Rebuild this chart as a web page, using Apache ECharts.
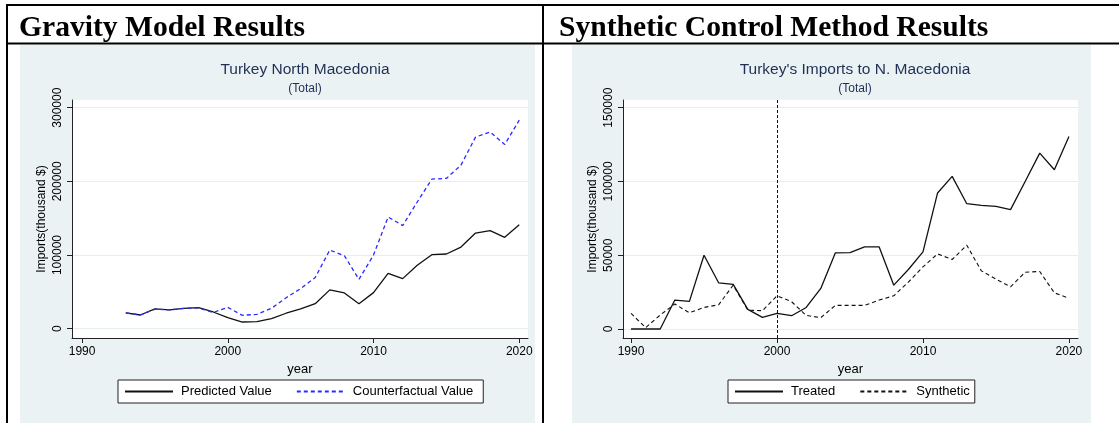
<!DOCTYPE html>
<html>
<head>
<meta charset="utf-8">
<script src="https://cdn.jsdelivr.net/npm/echarts@6/dist/echarts.min.js"></script>
<style>
html,body{margin:0;padding:0;background:#fff;}
#chart{width:1119px;height:423px;}
</style>
</head>
<body>
<div id="chart"></div>
<script>
// ---- data ----
const headerLeft = "Gravity Model Results";
const headerRight = "Synthetic Control Method Results";

const gravityYears = [1993,1994,1995,1996,1997,1998,1999,2000,2001,2002,2003,2004,2005,2006,2007,2008,2009,2010,2011,2012,2013,2014,2015,2016,2017,2018,2019,2020];
const predictedValue = [21400,18600,26800,25500,27700,28600,22700,15000,9100,9500,13600,21000,26800,34000,52700,48600,34000,49000,75000,68000,86000,100500,101400,110800,129800,133000,124000,141000];
const counterfactualValue = [21400,18600,26500,25500,27700,28200,22000,29000,18200,19500,27700,42000,54500,69500,106800,99000,67000,100000,151600,140000,172000,203000,204000,222000,260000,267000,250000,283000];

const scmYears = [1990,1991,1992,1993,1994,1995,1996,1997,1998,1999,2000,2001,2002,2003,2004,2005,2006,2007,2008,2009,2010,2011,2012,2013,2014,2015,2016,2017,2018,2019,2020];
const treated = [0,0,0,19600,18700,50000,31300,30200,13300,7900,10600,9000,14600,27500,51600,51800,55600,55600,29700,40300,52300,92200,103400,84900,83800,83100,80900,100000,119200,107900,130400];
const synthetic = [10600,900,9500,16900,11000,14600,16400,29700,12800,12400,22500,18500,9200,7700,16000,16000,16000,19600,22500,31800,42100,50900,47100,56800,39400,33800,28600,38500,39000,24500,20900];

const xTicks = [1990,2000,2010,2020];
const yTicksLeft = [0,100000,200000,300000];
const yTicksRight = [0,50000,100000,150000];
const treatmentYear = 2000;

// ---- helpers ----
const pair = (xs, ys) => xs.map((x, i) => [x, ys[i]]);
const FONT = '"Liberation Sans", Arial, sans-serif';
const SERIF = '"Liberation Serif", "Times New Roman", serif';
const TITLE_COLOR = '#1f2f55';
const BG = '#eaf2f3';

function xAxisCfg(gridIndex, min, max) {
  return {
    type: 'value', gridIndex, min, max,
    name: 'year', nameLocation: 'middle', nameGap: 20,
    nameTextStyle: { fontFamily: FONT, fontSize: 13, color: '#000' },
    axisLine: { show: true, onZero: false, lineStyle: { color: '#222', width: 1 } },
    axisTick: { show: true, length: 5, customValues: xTicks, lineStyle: { color: '#222' } },
    axisLabel: { customValues: xTicks, margin: 8, fontFamily: FONT, fontSize: 12, color: '#000', formatter: v => String(v) },
    splitLine: { show: false }
  };
}
function yAxisCfg(gridIndex, min, max, ticks) {
  return {
    type: 'value', gridIndex, min, max,
    name: 'Imports(thousand $)', nameLocation: 'middle', nameGap: 24,
    nameTextStyle: { fontFamily: FONT, fontSize: 12, color: '#000' },
    axisLine: { show: true, onZero: false, lineStyle: { color: '#222', width: 1 } },
    axisTick: { show: true, length: 5, customValues: ticks, lineStyle: { color: '#222' } },
    axisLabel: { customValues: ticks, rotate: 90, margin: 8, fontFamily: FONT, fontSize: 12, color: '#000', formatter: v => String(v) },
    splitLine: { show: true, lineStyle: { color: '#e6eef0', width: 1 } }
  };
}
function legendCfg(left, names, padRight) {
  return {
    left, top: 380, orient: 'horizontal', data: names,
    itemWidth: 48, itemHeight: 13, itemGap: 24, padding: [5, padRight, 5, 6],
    itemStyle: { opacity: 0 },
    backgroundColor: '#fff', borderColor: '#222', borderWidth: 1, borderRadius: 0,
    textStyle: { fontFamily: FONT, fontSize: 13, color: '#000', padding: [0, 0, 0, 3] }
  };
}

const chart = echarts.init(document.getElementById('chart'), null, { renderer: 'canvas' });

const option = {
  animation: false,
  backgroundColor: '#fff',
  graphic: [
    { type: 'rect', shape: { x: 20, y: 45, width: 515, height: 380 }, style: { fill: BG }, z: -10 },
    { type: 'rect', shape: { x: 572, y: 45, width: 519, height: 380 }, style: { fill: BG }, z: -10 },
    { type: 'line', shape: { x1: 6, y1: 5, x2: 1119, y2: 5 }, style: { stroke: '#000', lineWidth: 2 }, z: 10 },
    { type: 'line', shape: { x1: 6, y1: 43.5, x2: 1119, y2: 43.5 }, style: { stroke: '#000', lineWidth: 2 }, z: 10 },
    { type: 'line', shape: { x1: 7, y1: 4, x2: 7, y2: 423 }, style: { stroke: '#000', lineWidth: 2 }, z: 10 },
    { type: 'line', shape: { x1: 543, y1: 4, x2: 543, y2: 423 }, style: { stroke: '#000', lineWidth: 2 }, z: 10 },
    { type: 'text', x: 19, y: 28, style: { text: headerLeft, font: 'bold 29.6px ' + SERIF, fill: '#000', verticalAlign: 'middle' }, z: 10 },
    { type: 'text', x: 559, y: 28, style: { text: headerRight, font: 'bold 29.6px ' + SERIF, fill: '#000', verticalAlign: 'middle' }, z: 10 }
  ],
  title: [
    { text: 'Turkey North Macedonia', subtext: '(Total)', left: 300, top: 57, textAlign: 'center', itemGap: 5,
      textStyle: { fontFamily: FONT, fontSize: 15.5, fontWeight: 'normal', color: TITLE_COLOR },
      subtextStyle: { fontFamily: FONT, fontSize: 12, color: TITLE_COLOR } },
    { text: "Turkey's Imports to N. Macedonia", subtext: '(Total)', left: 850, top: 57, textAlign: 'center', itemGap: 5,
      textStyle: { fontFamily: FONT, fontSize: 15.5, fontWeight: 'normal', color: TITLE_COLOR },
      subtextStyle: { fontFamily: FONT, fontSize: 12, color: TITLE_COLOR } }
  ],
  legend: [
    legendCfg(118, ['Predicted Value', 'Counterfactual Value'], 10),
    legendCfg(728, ['Treated', 'Synthetic'], 5)
  ],
  grid: [
    { left: 72, top: 100, right: 591, bottom: 85, show: true, backgroundColor: '#fff', borderWidth: 0, containLabel: false },
    { left: 623, top: 100, right: 41, bottom: 85, show: true, backgroundColor: '#fff', borderWidth: 0, containLabel: false }
  ],
  xAxis: [ xAxisCfg(0, 1989.31, 2020.6), xAxisCfg(1, 1989.45, 2020.62) ],
  yAxis: [ yAxisCfg(0, -12600, 310400, yTicksLeft), yAxisCfg(1, -6100, 155200, yTicksRight) ],
  series: [
    { name: 'Predicted Value', type: 'line', xAxisIndex: 0, yAxisIndex: 0, data: pair(gravityYears, predictedValue),
      symbol: 'none', lineStyle: { color: '#111', width: 1.3, type: 'solid' }, itemStyle: { color: '#111' } },
    { name: 'Counterfactual Value', type: 'line', xAxisIndex: 0, yAxisIndex: 0, data: pair(gravityYears, counterfactualValue),
      symbol: 'none', lineStyle: { color: '#2a2aff', width: 1.3, type: [4, 3] }, itemStyle: { color: '#2a2aff' } },
    { name: 'Treated', type: 'line', xAxisIndex: 1, yAxisIndex: 1, data: pair(scmYears, treated),
      symbol: 'none', lineStyle: { color: '#111', width: 1.3, type: 'solid' }, itemStyle: { color: '#111' },
      markLine: { silent: true, symbol: 'none', label: { show: false },
        lineStyle: { color: '#111', width: 1, type: [3, 2] }, data: [{ xAxis: treatmentYear }] } },
    { name: 'Synthetic', type: 'line', xAxisIndex: 1, yAxisIndex: 1, data: pair(scmYears, synthetic),
      symbol: 'none', lineStyle: { color: '#111', width: 1.1, type: [4, 3] }, itemStyle: { color: '#111' } }
  ]
};
chart.setOption(option);
</script>
</body>
</html>
